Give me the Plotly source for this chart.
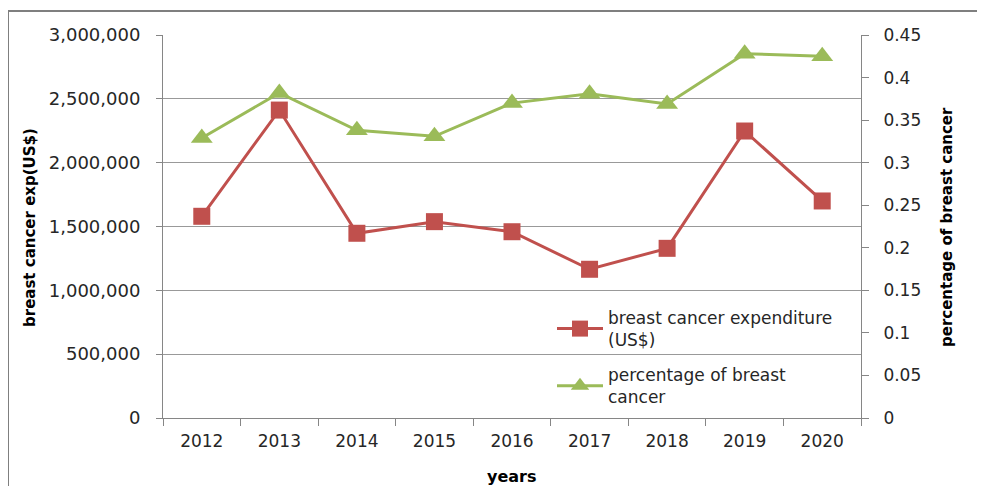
import plotly.graph_objects as go

years = ["2012", "2013", "2014", "2015", "2016", "2017", "2018", "2019", "2020"]
expenditure = [1580000, 2412000, 1447000, 1538000, 1459000, 1165000, 1329000, 2248000, 1700000]
percentage = [0.329, 0.382, 0.338, 0.331, 0.370, 0.381, 0.369, 0.428, 0.425]

RED = "#C0504D"
GREEN = "#9BBB59"
AXIS = "#868686"
FONT = "DejaVu Sans"
OFF = 8  # page body margin

fig = go.Figure()
fig.add_trace(go.Scatter(
    x=years, y=expenditure, name="breast cancer expenditure<br>(US$)", legendgroup="a",
    mode="lines+markers", line=dict(color=RED, width=3),
    marker=dict(symbol="square", size=17, color=RED), yaxis="y"))
fig.add_trace(go.Scatter(
    x=years, y=percentage, name="percentage of breast<br>cancer", legendgroup="b",
    mode="lines+markers", line=dict(color=GREEN, width=3),
    marker=dict(symbol="triangle-up", size=19, color=GREEN), yaxis="y2"))

# screen-space plot box
SL, SR, ST, SB = 163, 861, 35, 418
W, H = 985 - OFF, 486 - OFF
L, T = SL - OFF, ST - OFF
R = W - (SR - OFF)
B = H - (SB - OFF)
pw, ph = SR - SL, SB - ST

def px(x):
    return (x - SL) / pw

def py(y):
    return (SB - y) / ph

fig.update_layout(
    width=W, height=H,
    margin=dict(l=L, r=R, t=T, b=B),
    paper_bgcolor="white", plot_bgcolor="white",
    font=dict(family=FONT, size=17, color="#262626"),
    showlegend=True,
    legend=dict(x=px(552), y=py(300), xanchor="left", yanchor="top",
                bgcolor="rgba(0,0,0,0)", font=dict(size=17, family=FONT, color="#262626"),
                tracegroupgap=10, itemwidth=46),
    xaxis=dict(type="category", range=[-0.5, len(years) - 0.5], autorange=False,
               showgrid=False, showline=True, linecolor=AXIS, linewidth=1,
               ticks="outside", tickson="boundaries", ticklen=7, tickcolor=AXIS,
               tickfont=dict(size=17), ticklabelstandoff=8),
    yaxis=dict(range=[0, 3000000], dtick=500000, tickformat=",", showgrid=True,
               gridcolor="#999999", gridwidth=1, showline=True, linecolor=AXIS,
               ticks="outside", ticklen=6, tickcolor=AXIS, zeroline=False,
               tickfont=dict(size=18), ticklabelstandoff=12),
    yaxis2=dict(range=[0, 0.45], dtick=0.05, overlaying="y", side="right",
                showgrid=False, showline=True, linecolor=AXIS, ticks="outside",
                ticklen=7, tickcolor=AXIS, zeroline=False, tickformat="~g",
                tickfont=dict(size=17), ticklabelstandoff=11),
    annotations=[
        dict(text="<b>years</b>", x=px(512), y=py(476), xref="paper", yref="paper",
             xanchor="center", yanchor="middle",
             showarrow=False, font=dict(size=16, family=FONT, color="black")),
        dict(text="<b>breast cancer exp(US$)</b>", x=px(30), y=py(228), xref="paper", yref="paper",
             xanchor="center", yanchor="middle",
             showarrow=False, textangle=-90, font=dict(size=15, family=FONT, color="black")),
        dict(text="<b>percentage of breast cancer</b>", x=px(947), y=py(227), xref="paper", yref="paper",
             xanchor="center", yanchor="middle",
             showarrow=False, textangle=-90, font=dict(size=15, family=FONT, color="black")),
    ],
    shapes=[
        dict(type="rect", xref="paper", yref="paper", x0=px(8), x1=px(1000), y0=py(500), y1=py(11),
             line=dict(color="#7F7F7F", width=2), layer="below"),
    ],
)

fig.write_html("out.html")
